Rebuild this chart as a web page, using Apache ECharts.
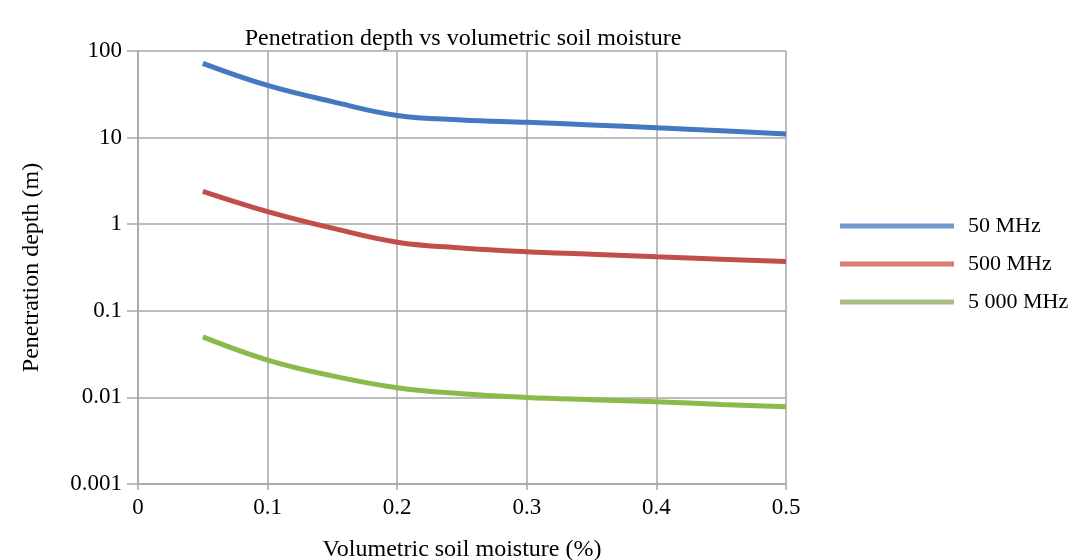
<!DOCTYPE html>
<html>
<head>
<meta charset="utf-8">
<script src="https://cdn.jsdelivr.net/npm/echarts@6/dist/echarts.min.js"></script>
<style>
  html, body { margin: 0; padding: 0; background: #fff; }
  #chart { width: 1068px; height: 560px; }
</style>
</head>
<body>
<div id="chart"></div>
<script>
// Soil moisture samples (x) and penetration depth per frequency (m)
const moisture = [0.05, 0.1, 0.15, 0.2, 0.25, 0.3, 0.35, 0.4, 0.45, 0.5];
const depth50 = [72, 40, 26, 18, 16, 15, 14, 13, 12, 11];
const depth500 = [2.4, 1.4, 0.9, 0.62, 0.53, 0.48, 0.45, 0.42, 0.395, 0.37];
const depth5000 = [0.05, 0.027, 0.0177, 0.0129, 0.011, 0.01, 0.0094, 0.0089, 0.0083, 0.0078];
const seriesNames = ['50 MHz', '500 MHz', '5 000 MHz'];
const yTickLabels = ['0.001', '0.01', '0.1', '1', '10', '100'];
const xTickLabels = ['0', '0.1', '0.2', '0.3', '0.4', '0.5'];

const font = '"Liberation Serif", "Times New Roman", serif';
const gridColor = '#a6a6a6';
const colors = ['#4479c0', '#c14e4b', '#8cba4a'];
// legend swatches look paler than the plotted lines
const legendColors = ['#7098cb', '#d87a72', '#a8bc84'];

const pairs = (ys) => moisture.map((x, i) => [x, ys[i]]);

const chart = echarts.init(document.getElementById('chart'));
chart.setOption({
  backgroundColor: '#ffffff',
  animation: false,
  title: {
    text: 'Penetration depth vs volumetric soil moisture',
    left: 458,
    textAlign: 'center',
    top: 22,
    textStyle: { fontFamily: font, fontSize: 24, fontWeight: 'normal', color: '#000' }
  },
  legend: {
    orient: 'vertical',
    left: 840,
    top: 215,
    padding: 0,
    itemWidth: 114,
    itemHeight: 5,
    itemGap: 16,
    icon: 'rect',
    textStyle: { fontFamily: font, fontSize: 22, color: '#000', padding: [0, 0, 0, 9] },
    data: seriesNames.map((n, i) => ({ name: n, itemStyle: { color: legendColors[i] } }))
  },
  grid: { left: 138, right: 282, top: 51, bottom: 76, outerBoundsMode: 'none' },
  xAxis: {
    type: 'value',
    min: 0,
    max: 0.5,
    interval: 0.1,
    name: 'Volumetric soil moisture (%)',
    nameLocation: 'middle',
    nameGap: 54,
    nameTextStyle: { fontFamily: font, fontSize: 24, color: '#000' },
    axisLine: { lineStyle: { color: gridColor, width: 1.5 } },
    axisTick: { show: true, length: 6, lineStyle: { color: gridColor, width: 1.5 } },
    axisLabel: {
      fontFamily: font, fontSize: 23, color: '#000', margin: 12,
      formatter: (v) => xTickLabels[Math.round(v * 10)]
    },
    splitLine: { show: true, lineStyle: { color: gridColor, width: 1.5 } }
  },
  yAxis: {
    type: 'log',
    logBase: 10,
    min: 0.001,
    max: 100,
    name: 'Penetration depth (m)',
    nameLocation: 'middle',
    nameGap: 94,
    nameTextStyle: { fontFamily: font, fontSize: 24, color: '#000' },
    axisLine: { show: true, lineStyle: { color: gridColor, width: 1.5 } },
    axisTick: { show: true, length: 11, lineStyle: { color: gridColor, width: 1.5 } },
    axisLabel: {
      fontFamily: font, fontSize: 23, color: '#000', margin: 16,
      formatter: (v) => yTickLabels[Math.round(Math.log10(v)) + 3]
    },
    splitLine: { show: true, lineStyle: { color: gridColor, width: 1.5 } }
  },
  series: [depth50, depth500, depth5000].map((d, i) => ({
    name: seriesNames[i],
    type: 'line',
    data: pairs(d),
    smooth: 0.4,
    showSymbol: false,
    lineStyle: { color: colors[i], width: 5 },
    itemStyle: { color: colors[i] }
  }))
});
</script>
</body>
</html>
